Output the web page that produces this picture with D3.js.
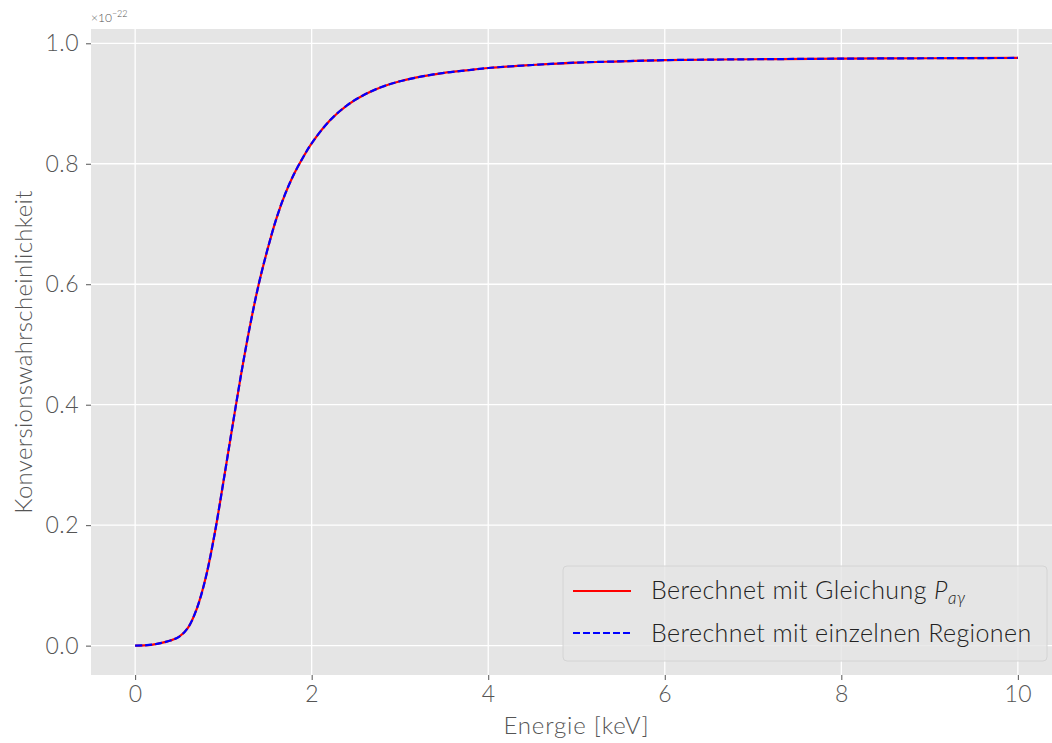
<!DOCTYPE html>
<html>
<head>
<meta charset="utf-8">
<script src="https://cdn.jsdelivr.net/npm/d3@7"></script>
<style>
  body { margin: 0; background: #fff; }
  svg text { font-family: Lato, "Open Sans", sans-serif; font-weight: 300; }
</style>
</head>
<body>
<div id="chart"></div>
<script>
// energy in keV, conversion probability in units of 1e-22
const energy = [0, 0.1, 0.2, 0.3, 0.4, 0.5, 0.6, 0.7, 0.8, 0.9, 1.0, 1.1, 1.2, 1.3, 1.4, 1.5, 1.6, 1.7, 1.8, 1.9,
    2.0, 2.2, 2.4, 2.6, 2.8, 3.0, 3.25, 3.5, 3.75, 4.0, 4.5, 5.0, 5.5, 6, 7, 8, 9, 10];
const probability = [0, 0.0004, 0.0017, 0.0045, 0.0085, 0.015, 0.030, 0.062, 0.113, 0.185, 0.272, 0.362, 0.450, 0.530,
    0.600, 0.658, 0.709, 0.750, 0.783, 0.810, 0.834, 0.871, 0.897, 0.915, 0.928, 0.937, 0.945, 0.951, 0.955, 0.959,
    0.964, 0.968, 0.970, 0.972, 0.9735, 0.9745, 0.9752, 0.9757];
const xTicks = [0, 2, 4, 6, 8, 10];
const yTicks = [0, 0.2, 0.4, 0.6, 0.8, 1.0];
const legendLabels = ["Berechnet mit Gleichung ", "Berechnet mit einzelnen Regionen"];

const width = 1052, height = 743;
const plotL = 91, plotT = 29, plotR = 1062, plotB = 675;

const svg = d3.select("#chart").append("svg")
    .attr("width", width)
    .attr("height", height);

const x = d3.scaleLinear().domain([-0.5, 10.5]).range([plotL, plotR]);
const y = d3.scaleLinear().domain([-0.04875, 1.02375]).range([plotB, plotT]);

svg.append("rect")
    .attr("x", plotL).attr("y", plotT)
    .attr("width", plotR - plotL).attr("height", plotB - plotT)
    .attr("fill", "#e5e5e5");

// grid
svg.append("g").selectAll("line").data(xTicks).enter().append("line")
    .attr("x1", d => x(d)).attr("x2", d => x(d))
    .attr("y1", plotT).attr("y2", plotB)
    .attr("stroke", "#fff").attr("stroke-width", 1.3);
svg.append("g").selectAll("line").data(yTicks).enter().append("line")
    .attr("x1", plotL).attr("x2", plotR)
    .attr("y1", d => y(d)).attr("y2", d => y(d))
    .attr("stroke", "#fff").attr("stroke-width", 1.3);

// axes
const xAxis = svg.append("g")
    .attr("transform", "translate(0," + plotB + ")")
    .call(d3.axisBottom(x).tickValues(xTicks).tickSize(5).tickPadding(6).tickFormat(d3.format("d")));
const yAxis = svg.append("g")
    .attr("transform", "translate(" + plotL + ",0)")
    .call(d3.axisLeft(y).tickValues(yTicks).tickSize(5).tickPadding(7).tickFormat(d3.format(".1f")));
[xAxis, yAxis].forEach(a => {
    a.select(".domain").remove();
    a.selectAll(".tick line").attr("stroke", "#555").attr("stroke-width", 1);
    a.selectAll(".tick text").attr("fill", "#555").style("font-size", "23px")
        .style("letter-spacing", "0.5px");
});

svg.append("text")
    .attr("x", x(5)).attr("y", 734)
    .attr("text-anchor", "middle")
    .attr("fill", "#555").style("font-size", "24px")
    .style("letter-spacing", "0.8px")
    .text("Energie [keV]");

svg.append("text")
    .attr("transform", "translate(32," + (plotT + plotB) / 2 + ") rotate(-90)")
    .attr("text-anchor", "middle")
    .attr("fill", "#555").style("font-size", "24px")
    .style("letter-spacing", "0.3px")
    .text("Konversionswahrscheinlichkeit");

const offset = svg.append("text")
    .attr("x", plotL).attr("y", 22)
    .attr("fill", "#555").style("font-size", "12px");
offset.append("tspan").text("×10");
offset.append("tspan").attr("dy", -5).style("font-size", "9px").text("−22");

// curves
const pts = energy.map((e, i) => [e, probability[i]]);
const line = d3.line()
    .x(d => x(d[0]))
    .y(d => y(d[1]))
    .curve(d3.curveCatmullRom.alpha(0.5));

svg.append("path")
    .datum(pts)
    .attr("d", line)
    .attr("fill", "none")
    .attr("stroke", "#ff0000")
    .attr("stroke-width", 2.2);
svg.append("path")
    .datum(pts)
    .attr("d", line)
    .attr("fill", "none")
    .attr("stroke", "#0000ff")
    .attr("stroke-width", 2.2)
    .attr("stroke-dasharray", "7,3");

// legend
const lg = svg.append("g");
lg.append("rect")
    .attr("x", 563).attr("y", 566)
    .attr("width", 484).attr("height", 95)
    .attr("rx", 4)
    .attr("fill", "#e5e5e5").attr("fill-opacity", 0.8)
    .attr("stroke", "#d4d4d4").attr("stroke-width", 1);
lg.append("line")
    .attr("x1", 573).attr("x2", 631).attr("y1", 591).attr("y2", 591)
    .attr("stroke", "#ff0000").attr("stroke-width", 2.2);
lg.append("line")
    .attr("x1", 573).attr("x2", 631).attr("y1", 633).attr("y2", 633)
    .attr("stroke", "#0000ff").attr("stroke-width", 2.2)
    .attr("stroke-dasharray", "7,3");
const t1 = lg.append("text")
    .attr("x", 651).attr("y", 599)
    .attr("fill", "#222").style("font-size", "25px")
    .style("letter-spacing", "0.4px");
t1.append("tspan").text(legendLabels[0]);
t1.append("tspan").style("font-style", "italic").text("P");
t1.append("tspan").attr("dy", 5).style("font-size", "17px").style("font-style", "italic").text("aγ");
lg.append("text")
    .attr("x", 651).attr("y", 642)
    .attr("fill", "#222").style("font-size", "25px")
    .style("letter-spacing", "0.4px")
    .text(legendLabels[1]);
</script>
</body>
</html>
